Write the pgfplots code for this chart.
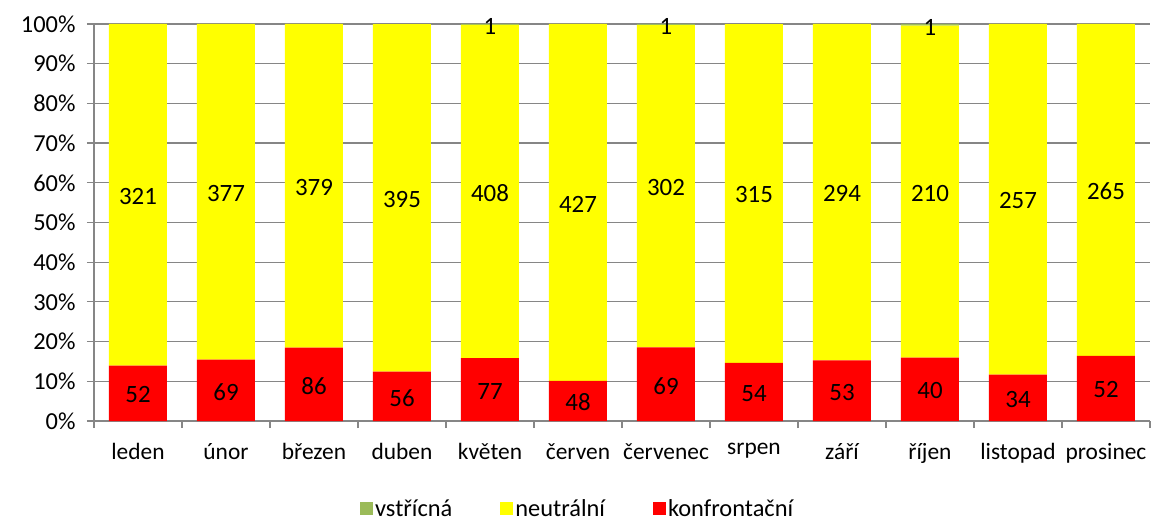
\documentclass[border=0pt]{standalone}
\usepackage{fontspec}
\setmainfont{Carlito}
\usepackage{pgfplots}
\usepackage{pgfplotstable}
\pgfplotsset{compat=1.18}
\definecolor{gridgray}{RGB}{134,134,134}
\definecolor{bred}{RGB}{255,0,0}
\definecolor{byellow}{RGB}{255,255,0}
\definecolor{bgreen}{RGB}{155,187,89}

\pgfplotstableread{
x k n v
0 52 321 0
1 69 377 0
2 86 379 0
3 56 395 0
4 77 408 1
5 48 427 0
6 69 302 1
7 54 315 0
8 53 294 0
9 40 210 1
10 34 257 0
11 52 265 0
}\data

\pgfplotstableread{
x v y
4 1 99.8
6 1 99.7
9 1 99.6
}\vlab

\pgfplotstablecreatecol[create col/expr={\thisrow{k}+\thisrow{n}+\thisrow{v}}]{tot}{\data}
\pgfplotstablecreatecol[create col/expr={100*\thisrow{k}/\thisrow{tot}}]{kp}{\data}
\pgfplotstablecreatecol[create col/expr={100*\thisrow{n}/\thisrow{tot}}]{np}{\data}
\pgfplotstablecreatecol[create col/expr={100*\thisrow{v}/\thisrow{tot}}]{vp}{\data}
\pgfplotstablecreatecol[create col/expr={\thisrow{kp}/2}]{km}{\data}
\pgfplotstablecreatecol[create col/expr={\thisrow{kp}+\thisrow{np}/2}]{nm}{\data}

\begin{document}%
\begin{tikzpicture}[font=\fontsize{24}{28}\selectfont]
\begin{axis}[
  at={(0,0)}, anchor=south west,
  scale only axis, width=1056bp, height=397bp,
  ybar stacked, bar width=58bp,
  xmin=-0.5, xmax=11.5, ymin=0, ymax=100,
  xtick={-0.5,0.5,...,11.5}, xticklabel={\relax},
  extra x ticks={0,1,...,11},
  extra x tick labels={leden,únor,březen,duben,květen,červen,červenec,srpen,září,říjen,listopad,prosinec},
  extra x tick style={major tick length=0pt, tick label style={yshift=-19bp, font=\fontsize{23.5}{28}\selectfont}},
  ytick={0,10,...,100},
  yticklabel={\pgfmathprintnumber{\tick}\%},
  /pgf/number format/assume math mode=true,
  ymajorgrids, grid style={gridgray, line width=1.2bp},
  axis x line*=bottom, axis y line*=left,
  axis line style={gridgray, line width=1.2bp, -},
  tick align=outside, major tick length=7bp,
  tick style={gridgray, line width=1.2bp},
  tick label style={black, font=\fontsize{24.5}{28}\selectfont},
  yticklabel style={xshift=-8bp},
  legend style={at={(0.458,-0.221)}, anchor=center, draw=none, fill=none,
    legend columns=3, font=\fontsize{24.5}{28}\selectfont,
    nodes={inner sep=2.5bp},
    /tikz/every even column/.append style={column sep=45bp}},
  legend image code/.code={\fill[#1] (-4bp,-6.5bp) rectangle (9bp,6.5bp);},
]
\addplot[fill=bred, draw=none, forget plot] table[x=x,y=kp]{\data};
\addplot[fill=byellow, draw=none, forget plot] table[x=x,y=np]{\data};
\addplot[fill=bgreen, draw=none, forget plot] table[x=x,y=vp]{\data};
\addlegendimage{fill=bgreen, draw=none}
\addlegendentry{vstřícná}
\addlegendimage{fill=byellow, draw=none}
\addlegendentry{neutrální}
\addlegendimage{fill=bred, draw=none}
\addlegendentry{konfrontační}
\end{axis}
\begin{axis}[
  at={(0,0)}, anchor=south west,
  scale only axis, width=1056bp, height=397bp,
  xmin=-0.5, xmax=11.5, ymin=0, ymax=100,
  hide axis, clip=false,
  nodes near coords, point meta=explicit symbolic,
  every node near coord/.append style={anchor=center, yshift=-1.5bp, text=black, font=\fontsize{25}{28}\selectfont},
]
\addplot[draw=none, mark=none] table[x=x,y=km,meta=k]{\data};
\addplot[draw=none, mark=none] table[x=x,y=nm,meta=n]{\data};
\addplot[draw=none, mark=none] table[x=x,y=y,meta=v]{\vlab};
\end{axis}
\pgfresetboundingbox
\path (-94bp,-97bp) rectangle (1065bp,421bp);
\end{tikzpicture}%
\end{document}
